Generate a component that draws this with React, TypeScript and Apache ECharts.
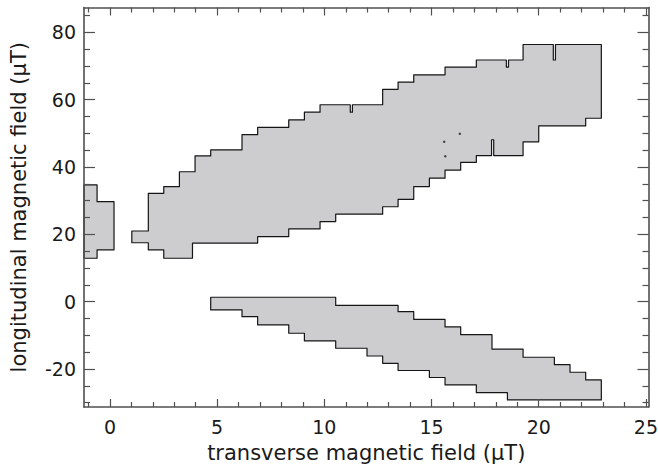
import React, { useEffect, useRef } from 'react';
import * as echarts from 'echarts';

const xMajorTicks = [0, 5, 10, 15, 20, 25];
const xMinorTicks = [-1, 1, 2, 3, 4, 6, 7, 8, 9, 11, 12, 13, 14, 16, 17, 18, 19, 21, 22, 23, 24];
const yMajorTicks = [-20, 0, 20, 40, 60, 80];
const yMinorTicks = [-30, -25, -15, -10, -5, 5, 10, 15, 25, 30, 35, 45, 50, 55, 65, 70, 75, 85];

// region outlines as steps: [xStart, xEnd, y]
const leftTop = [
  [-1.21, -0.6, 34.7],
  [-0.6, 0.19, 29.7],
];
const leftBottom = [
  [-1.21, -0.6, 12.9],
  [-0.6, 0.19, 15.4],
];

const upperTop = [
  [1.02, 1.79, 21.0],
  [1.79, 2.51, 32.2],
  [2.51, 3.24, 34.2],
  [3.24, 3.97, 38.6],
  [3.97, 4.7, 43.3],
  [4.7, 6.16, 45.1],
  [6.16, 6.89, 49.6],
  [6.89, 8.34, 51.8],
  [8.34, 9.07, 54.0],
  [9.07, 9.8, 56.3],
  [9.8, 11.21, 58.5],
  [11.21, 11.31, 56.3],
  [11.31, 12.72, 58.5],
  [12.72, 13.44, 63.1],
  [13.44, 14.17, 65.2],
  [14.17, 15.63, 67.4],
  [15.63, 17.09, 69.7],
  [17.09, 18.49, 71.8],
  [18.49, 18.59, 69.7],
  [18.59, 19.27, 71.8],
  [19.27, 20.68, 76.4],
  [20.68, 20.78, 71.8],
  [20.78, 22.92, 76.4],
];
const upperBottom = [
  [1.02, 1.79, 17.5],
  [1.79, 2.51, 15.4],
  [2.51, 3.85, 12.9],
  [3.85, 6.89, 17.4],
  [6.89, 8.34, 19.3],
  [8.34, 9.8, 21.6],
  [9.8, 10.53, 23.8],
  [10.53, 12.72, 26.0],
  [12.72, 13.44, 28.2],
  [13.44, 14.17, 30.4],
  [14.17, 14.9, 34.2],
  [14.9, 15.63, 36.7],
  [15.63, 16.36, 39.1],
  [16.36, 17.09, 41.4],
  [17.09, 17.8, 43.4],
  [17.8, 17.9, 48.1],
  [17.9, 19.27, 43.4],
  [19.27, 20.0, 47.5],
  [20.0, 22.19, 52.2],
  [22.19, 22.92, 54.5],
];

const lowerTop = [
  [4.7, 10.53, 1.31],
  [10.53, 13.44, -1.13],
  [13.44, 14.17, -2.97],
  [14.17, 15.63, -5.29],
  [15.63, 16.36, -7.52],
  [16.36, 17.82, -9.81],
  [17.82, 19.27, -14.12],
  [19.27, 20.73, -16.52],
  [20.73, 21.46, -18.72],
  [21.46, 22.19, -20.98],
  [22.19, 22.92, -23.27],
];
const lowerBottom = [
  [4.7, 6.16, -2.47],
  [6.16, 6.89, -4.46],
  [6.89, 8.34, -6.92],
  [8.34, 9.07, -9.39],
  [9.07, 10.53, -11.68],
  [10.53, 11.99, -13.85],
  [11.99, 12.72, -16.14],
  [12.72, 13.44, -18.31],
  [13.44, 14.9, -20.45],
  [14.9, 15.63, -22.53],
  [15.63, 17.09, -24.75],
  [17.09, 18.54, -27.04],
  [18.54, 22.92, -29.21],
];

const holes = [
  [15.59, 47.5],
  [15.64, 43.2],
  [16.32, 49.9],
];

const regions = [
  { top: leftTop, bottom: leftBottom },
  { top: upperTop, bottom: upperBottom },
  { top: lowerTop, bottom: lowerBottom },
];

const X_MIN = -1.21;
const X_MAX = 25.12;
const Y_MIN = -31.3;
const Y_MAX = 87.4;

const FONT = 'DejaVu Sans';
const AXIS_COLOR = '#505050';
const TEXT_COLOR = '#1a1a1a';

export default function App() {
  const ref = useRef<HTMLDivElement>(null);

  useEffect(() => {
    if (!ref.current) return;
    const chart = echarts.init(ref.current, null, { renderer: 'svg' });

    const tickAxis = (
      kind: 'x' | 'y',
      position: string,
      values: number[],
      length: number,
      showLine: boolean,
      labels: boolean
    ) => ({
      type: 'value',
      position,
      min: kind === 'x' ? X_MIN : Y_MIN,
      max: kind === 'x' ? X_MAX : Y_MAX,
      z: 5,
      axisLine: { show: showLine, onZero: false, lineStyle: { color: AXIS_COLOR, width: 1.6 } },
      axisTick: {
        show: true,
        inside: true,
        length,
        customValues: values,
        lineStyle: { color: AXIS_COLOR, width: 1.2 },
      },
      axisLabel: labels
        ? {
            show: true,
            customValues: values,
            fontFamily: FONT,
            fontSize: 19,
            color: TEXT_COLOR,
            margin: kind === 'x' ? 10 : 8,
          }
        : { show: false },
      splitLine: { show: false },
    });

    const xMain: any = tickAxis('x', 'bottom', xMajorTicks, 8, true, true);
    xMain.name = 'transverse magnetic field (\u03bcT)';
    xMain.nameLocation = 'middle';
    xMain.nameGap = 35;
    xMain.nameTextStyle = { fontFamily: FONT, fontSize: 21, color: TEXT_COLOR };

    const yMain: any = tickAxis('y', 'left', yMajorTicks, 11, true, true);
    yMain.name = 'longitudinal magnetic field (\u03bcT)';
    yMain.nameLocation = 'middle';
    yMain.nameGap = 55;
    yMain.nameTextStyle = { fontFamily: FONT, fontSize: 21, color: TEXT_COLOR };

    const option: any = {
      animation: false,
      backgroundColor: '#ffffff',
      grid: {
        left: 84,
        right: 9.5,
        top: 7.5,
        bottom: 64,
        containLabel: false,
        outerBoundsMode: 'none',
      },
      xAxis: [
        xMain,
        tickAxis('x', 'bottom', xMinorTicks, 5, false, false),
        tickAxis('x', 'top', xMajorTicks, 8, true, false),
        tickAxis('x', 'top', xMinorTicks, 5, false, false),
      ],
      yAxis: [
        yMain,
        tickAxis('y', 'left', yMinorTicks, 6, false, false),
        tickAxis('y', 'right', yMajorTicks, 11, true, false),
        tickAxis('y', 'right', yMinorTicks, 6, false, false),
      ],
      series: [
        {
          type: 'custom',
          xAxisIndex: 0,
          yAxisIndex: 0,
          data: regions.map((r) => [r.top[0][0], r.top[0][2]]),
          renderItem: (params: any, api: any) => {
            const r = regions[params.dataIndex];
            const pts: number[][] = [];
            r.top.forEach(([x0, x1, y]) => {
              pts.push(api.coord([x0, y]));
              pts.push(api.coord([x1, y]));
            });
            [...r.bottom].reverse().forEach(([x0, x1, y]) => {
              pts.push(api.coord([x1, y]));
              pts.push(api.coord([x0, y]));
            });
            return {
              type: 'polygon',
              shape: { points: pts },
              style: {
                fill: '#cdcdcf',
                stroke: '#151515',
                lineWidth: 1.2,
                lineJoin: 'round',
              },
            };
          },
          silent: true,
          z: 2,
        },
        {
          type: 'scatter',
          xAxisIndex: 0,
          yAxisIndex: 0,
          data: holes,
          symbol: 'circle',
          symbolSize: 2.5,
          itemStyle: { color: '#202020' },
          silent: true,
          z: 3,
        },
      ],
    };

    chart.setOption(option);
    return () => chart.dispose();
  }, []);

  return (
    <div
      ref={ref}
      style={{ position: 'fixed', left: 0, top: 0, width: 658, height: 471, background: '#fff' }}
    />
  );
}
